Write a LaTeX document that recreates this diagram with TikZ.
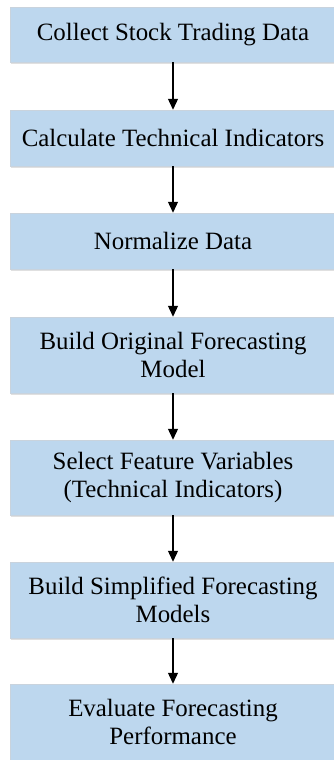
\documentclass[tikz,border=0pt]{standalone}
\usepackage{fontspec}
\setmainfont{Liberation Serif}
\usetikzlibrary{arrows.meta,shadows}
\definecolor{boxblue}{HTML}{BDD7EE}
\definecolor{boxedge}{HTML}{C9D3DD}
\tikzset{
  stepbox/.style={draw=boxedge, line width=0.5pt, fill=boxblue,
    minimum width=326pt, inner sep=0pt, align=center,
    font=\fontsize{24.9}{28}\selectfont,
    drop shadow={shadow xshift=1pt, shadow yshift=-2pt, fill=black, opacity=0.12}},
  flow/.style={line width=1.3pt, -{Triangle[width=10pt,length=11pt]}}
}
\begin{document}
\begin{tikzpicture}[x=1pt,y=1pt]
\useasboundingbox (0,0) rectangle (334,-760);
\node[stepbox, minimum height=55pt] (a) at (173,-34.5) {Collect Stock Trading Data};
\node[stepbox, minimum height=56pt] (b) at (173,-138) {Calculate Technical Indicators};
\node[stepbox, minimum height=56pt] (c) at (173,-241) {Normalize Data};
\node[stepbox, minimum height=76pt] (d) at (173,-355) {Build Original Forecasting\\Model};
\node[stepbox, minimum height=75pt] (e) at (173,-477.5) {Select Feature Variables\\(Technical Indicators)};
\node[stepbox, minimum height=76pt] (f) at (173,-600) {Build Simplified Forecasting\\Models};
\node[stepbox, minimum height=76pt] (g) at (173,-722) {Evaluate Forecasting\\Performance};
\draw[flow] (a.south) -- (b.north);
\draw[flow] (b.south) -- (c.north);
\draw[flow] (c.south) -- (d.north);
\draw[flow] (d.south) -- (e.north);
\draw[flow] (e.south) -- (f.north);
\draw[flow] (f.south) -- (g.north);
\end{tikzpicture}
\end{document}
